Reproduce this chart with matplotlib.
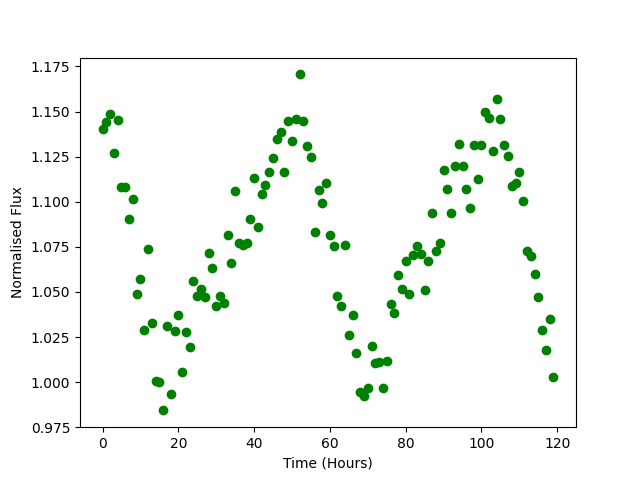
import matplotlib
matplotlib.use("Agg")
import matplotlib.pyplot as plt

hours = list(range(120))
flux = [
    1.1404, 1.1443, 1.1487, 1.1270, 1.1454, 1.1082, 1.1082, 1.0904, 1.1015, 1.0487,
    1.0571, 1.0287, 1.0737, 1.0326, 1.0006, 0.9998, 0.9846, 1.0311, 0.9933, 1.0282,
    1.0371, 1.0054, 1.0276, 1.0194, 1.0559, 1.0476, 1.0518, 1.0471, 1.0715, 1.0632,
    1.0421, 1.0478, 1.0437, 1.0815, 1.0659, 1.1059, 1.0771, 1.0759, 1.0771, 1.0904,
    1.1132, 1.0859, 1.1043, 1.1093, 1.1165, 1.1243, 1.1348, 1.1385, 1.1165, 1.1448,
    1.1337, 1.1459, 1.1706, 1.1448, 1.1309, 1.1248, 1.0832, 1.1065, 1.0993, 1.1104,
    1.0815, 1.0754, 1.0476, 1.0424, 1.0759, 1.0259, 1.0371, 1.0159, 0.9943, 0.9921,
    0.9965, 1.0198, 1.0104, 1.0109, 0.9965, 1.0115, 1.0432, 1.0382, 1.0593, 1.0515,
    1.0671, 1.0487, 1.0704, 1.0754, 1.0709, 1.0509, 1.0671, 1.0937, 1.0726, 1.0771,
    1.1176, 1.1071, 1.0937, 1.1198, 1.1321, 1.1198, 1.1071, 1.0965, 1.1315, 1.1126,
    1.1315, 1.1498, 1.1465, 1.1282, 1.1571, 1.1459, 1.1315, 1.1254, 1.1087, 1.1104,
    1.1165, 1.1004, 1.0726, 1.0698, 1.0598, 1.0471, 1.0287, 1.0176, 1.0348, 1.0026,
]

fig, ax = plt.subplots(figsize=(6.4, 4.8), dpi=100)
ax.plot(hours, flux, 'go')
ax.set_ylim(bottom=0.975)
ax.set_xlabel("Time (Hours)")
ax.set_ylabel("Normalised Flux")
fig.savefig("out.png")
